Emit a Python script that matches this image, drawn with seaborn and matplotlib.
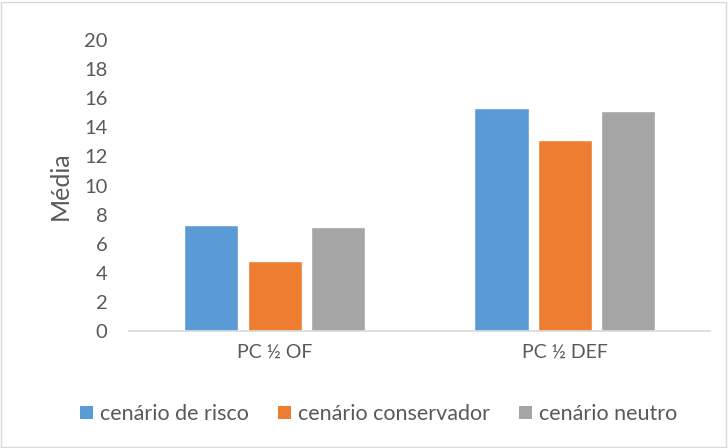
import matplotlib
matplotlib.use("Agg")
import matplotlib.pyplot as plt
import seaborn as sns
import pandas as pd
from matplotlib.patches import Patch, Rectangle

categories = ["PC ½ OF", "PC ½ DEF"]
series_names = ["cenário de risco", "cenário conservador", "cenário neutro"]
risco = [7.3, 15.3]
conservador = [4.8, 13.15]
neutro = [7.15, 15.12]
colors = ["#5B9BD5", "#ED7D31", "#A5A5A5"]
y_ticks = list(range(0, 21, 2))

rows = []
for name, vals in zip(series_names, [risco, conservador, neutro]):
    for cat, v in zip(categories, vals):
        rows.append({"categoria": cat, "cenário": name, "Média": v})
df = pd.DataFrame(rows)

sns.set_theme(style="white")
plt.rcParams["font.family"] = ["Lato", "DejaVu Sans"]
text_color = "#595959"

fig = plt.figure(figsize=(7.28, 4.48), dpi=100)
ax = fig.add_axes([129.5 / 728, 1 - 331 / 448, 580.5 / 728, 291 / 448])

sns.barplot(data=df, x="categoria", y="Média", hue="cenário",
            palette=colors, order=categories, hue_order=series_names,
            width=0.655, gap=0.145, saturation=1, ax=ax, legend=False)

ax.set_ylim(0, 20)
ax.set_yticks(y_ticks)
ax.set_yticklabels([str(t) for t in y_ticks])
ax.set_xlim(-0.5, 1.5)
for s in ["top", "right", "left"]:
    ax.spines[s].set_visible(False)
ax.spines["bottom"].set_color("#D9D9D9")
ax.spines["bottom"].set_linewidth(1.2)
ax.tick_params(axis="both", length=0, colors=text_color)
ax.tick_params(axis="y", pad=16, labelsize=14.5)
ax.tick_params(axis="x", pad=9, labelsize=14)
ax.set_xlabel("")
ax.set_ylabel("Média", fontsize=18, color=text_color, labelpad=9)

handles = [Patch(facecolor=c, edgecolor="none") for c in colors]
fig.legend(handles, series_names, loc="center", bbox_to_anchor=(0.52, 1 - 414 / 448),
           ncol=3, frameon=False, fontsize=15.5, labelcolor=text_color,
           handlelength=0.6, handleheight=0.6, handletextpad=0.33, columnspacing=1.35)

fig.patches.append(Rectangle((0.002, 0.003), 0.995, 0.993, transform=fig.transFigure,
                             fill=False, edgecolor="#D9D9D9", linewidth=1))

fig.savefig("out.png", dpi=100)
